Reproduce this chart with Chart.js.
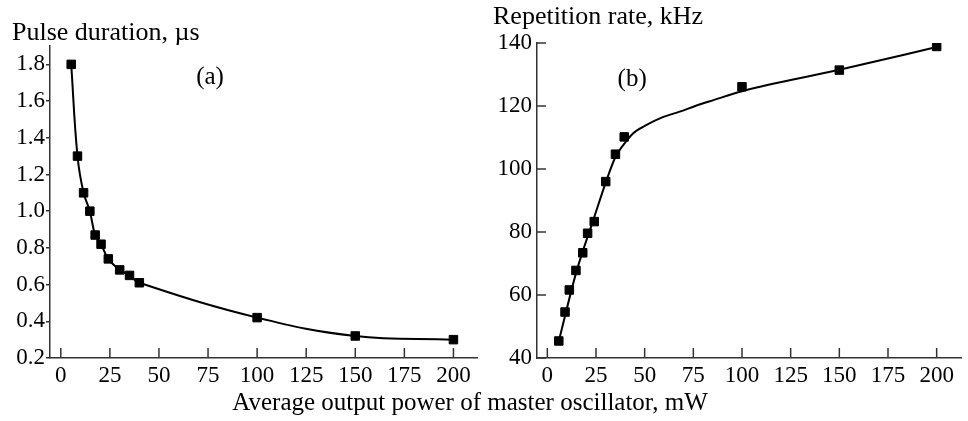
<!DOCTYPE html>
<html>
<head>
<meta charset="utf-8">
<script src="https://cdn.jsdelivr.net/npm/chart.js@4.4.1/dist/chart.umd.min.js"></script>
<style>
  body { margin: 0; background: #fff; }
  #wrap { position: relative; width: 968px; height: 421px; overflow: hidden; }
  canvas { position: absolute; top: 0; }
  #chartA { left: 0; }
  #chartB { left: 484px; }
  #xTitle {
    position: absolute; left: 0; width: 940px; top: 387px;
    text-align: center; font: 25px "Liberation Serif", serif; line-height: 30px; color: #000;
  }
</style>
</head>
<body>
<div id="wrap">
  <canvas id="chartA" width="484" height="421"></canvas>
  <canvas id="chartB" width="484" height="421"></canvas>
  <div id="xTitle">Average output power of master oscillator, mW</div>
</div>
<script>
// panel (a): pulse duration, measured points
const powerA = [5.3, 8.5, 11.6, 14.8, 17.5, 20.5, 24.2, 30, 35, 40, 100, 150, 200];
const durationA = [1.80, 1.30, 1.10, 1.00, 0.87, 0.82, 0.74, 0.68, 0.65, 0.61, 0.42, 0.32, 0.30];

// panel (b): repetition rate, measured points
const powerB = [5.9, 9.1, 11.3, 14.7, 18.2, 20.7, 24.1, 30, 35, 39.5, 100, 150, 200];
const rateB = [45.4, 54.6, 61.6, 67.8, 73.4, 79.6, 83.3, 96, 104.7, 110.2, 126.1, 131.4, 138.9];

// panel (b): drawn fit curve
const fitPowerB = [5.9, 15, 24, 30, 35, 39, 44, 51, 59, 68, 76, 85, 100, 150, 200];
const fitRateB = [45.4, 67.5, 84.5, 95.7, 103.8, 107.6, 111.3, 114.0, 116.4, 118.2, 120.0, 121.8, 124.7, 131.5, 138.7];

const xTicks = [0, 25, 50, 75, 100, 125, 150, 175, 200];
const yTicksA = [0.2, 0.4, 0.6, 0.8, 1.0, 1.2, 1.4, 1.6, 1.8];
const yTicksB = [40, 60, 80, 100, 120, 140];

const FONT = "'Liberation Serif', 'Times New Roman', serif";
const AXIS = "#333";

Chart.defaults.font.family = FONT;
Chart.defaults.font.size = 23;
Chart.defaults.color = "#000";

/* ticks pointing into the plot area */
const inTicks = {
  id: "inTicks",
  afterDraw(chart, args, o) {
    const ctx = chart.ctx;
    ctx.save();
    ctx.strokeStyle = AXIS;
    ctx.lineWidth = 1.5;
    (o.axes || []).forEach(a => {
      const s = chart.scales[a.id];
      s.ticks.forEach(t => {
        const p = s.getPixelForValue(t.value);
        ctx.beginPath();
        if (s.isHorizontal()) {
          ctx.moveTo(p, s.top);
          ctx.lineTo(p, s.top - a.len);
        } else {
          ctx.moveTo(s.right, p);
          ctx.lineTo(s.right + a.len, p);
        }
        ctx.stroke();
      });
    });
    ctx.restore();
  }
};

/* "(a)" / "(b)" tag */
const panelTag = {
  id: "panelTag",
  afterDraw(chart, args, o) {
    const ctx = chart.ctx;
    ctx.save();
    ctx.font = "25px " + FONT;
    ctx.fillStyle = "#000";
    ctx.textAlign = "center";
    ctx.textBaseline = "middle";
    ctx.fillText(o.text, chart.scales.x.getPixelForValue(o.x), chart.scales.y.getPixelForValue(o.y));
    ctx.restore();
  }
};

const toXY = (xs, ys) => xs.map((x, i) => ({ x, y: ys[i] }));

function makeChart(id, cfg) {
  return new Chart(document.getElementById(id), {
    type: "scatter",
    data: {
      datasets: [{
        data: toXY(cfg.xs, cfg.ys),
        showLine: false,
        backgroundColor: "#000",
        borderColor: "#000",
        pointStyle: "rect",
        pointRadius: 6,
        pointBorderWidth: 1
      }, {
        data: toXY(cfg.curveX, cfg.curveY),
        showLine: true,
        tension: cfg.tension,
        cubicInterpolationMode: cfg.interp,
        borderColor: "#000",
        borderWidth: 2,
        pointRadius: 0
      }]
    },
    options: {
      responsive: false,
      animation: false,
      layout: { padding: { left: cfg.padLeft, right: cfg.padRight, top: 0, bottom: 0 } },
      plugins: {
        legend: { display: false },
        tooltip: { enabled: false },
        title: {
          display: true,
          text: cfg.yTitle,
          align: "start",
          color: "#000",
          font: { family: FONT, size: 26, weight: "normal", lineHeight: 1.0 },
          padding: cfg.titlePad
        },
        inTicks: { axes: cfg.inAxes },
        panelTag: cfg.tag
      },
      scales: {
        x: {
          type: "linear",
          min: cfg.xMin,
          max: cfg.xMax,
          afterBuildTicks: s => { s.ticks = xTicks.map(v => ({ value: v })); },
          afterFit: s => { s.height = 63; },
          grid: { display: false, drawTicks: false },
          border: { display: true, color: AXIS, width: 1.5 },
          ticks: { padding: 4, maxRotation: 0, autoSkip: false, color: "#000" }
        },
        y: {
          type: "linear",
          min: cfg.yMin,
          max: cfg.yMax,
          afterBuildTicks: s => { s.ticks = cfg.yTicks.map(v => ({ value: v })); },
          afterFit: s => { s.width = cfg.yWidth; },
          grid: cfg.yGrid,
          border: { display: true, color: AXIS, width: 1.5 },
          ticks: { padding: cfg.yPad, autoSkip: false, color: "#000", callback: cfg.yFmt }
        }
      }
    },
    plugins: [inTicks, panelTag]
  });
}

makeChart("chartA", {
  xs: powerA, ys: durationA,
  curveX: powerA, curveY: durationA, tension: 0.4, interp: "default",
  yTitle: "Pulse duration, \u00b5s",
  padLeft: 12, padRight: 4,
  titlePad: { top: 20, bottom: 0 },
  xMin: -5.5, xMax: 212,
  yMin: 0.2, yMax: 1.9, yTicks: yTicksA, yWidth: 38, yPad: 1,
  yFmt: v => v.toFixed(1),
  yGrid: { display: true, drawOnChartArea: false, drawTicks: true, tickLength: 4, color: AXIS, lineWidth: 1.5 },
  inAxes: [{ id: "x", len: 10 }],
  tag: { text: "(a)", x: 76, y: 1.73 }
});

makeChart("chartB", {
  xs: powerB, ys: rateB,
  curveX: fitPowerB, curveY: fitRateB, tension: 0, interp: "monotone",
  yTitle: "Repetition rate, kHz",
  padLeft: 9, padRight: 0,
  titlePad: { top: 4, bottom: 13 },
  xMin: -5.3, xMax: 212.5,
  yMin: 40, yMax: 140, yTicks: yTicksB, yWidth: 44, yPad: 5,
  yFmt: v => String(v),
  yGrid: { display: false, drawTicks: false },
  inAxes: [{ id: "x", len: 10 }, { id: "y", len: 9 }],
  tag: { text: "(b)", x: 43.6, y: 128.5 }
});
</script>
</body>
</html>
